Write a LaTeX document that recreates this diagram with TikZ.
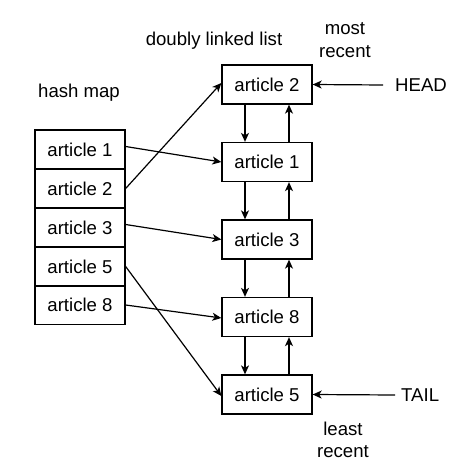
\documentclass[tikz,border=0pt]{standalone}
\usepackage{fontspec}
\setmainfont{Liberation Sans}
\usetikzlibrary{arrows.meta}
\begin{document}
\begin{tikzpicture}[x=1pt,y=-1pt,
  font=\fontsize{18.6}{22.5}\selectfont,
  cell/.style={draw,line width=1.3pt,minimum width=90pt,minimum height=39pt,inner sep=0pt},
  lbl/.style={inner sep=0pt,align=center},
  arr/.style={line width=1.2pt,-{Stealth[length=9pt,width=8pt,inset=2.5pt]}}]
\useasboundingbox (0,0) rectangle (464,468);
% hash map
\node[cell] (h1) at (80,149.5) {article 1};
\node[cell] (h2) at (80,188.5) {article 2};
\node[cell] (h3) at (80,227.5) {article 3};
\node[cell] (h5) at (80,266.5) {article 5};
\node[cell] (h8) at (80,305) {article 8};
% list
\node[cell] (l2) at (267,84.5) {article 2};
\node[cell] (l1) at (267,162) {article 1};
\node[cell] (l3) at (267,239.5) {article 3};
\node[cell] (l8) at (267,317) {article 8};
\node[cell] (l5) at (267,394.5) {article 5};
% labels
\node[lbl] (hm) at (79,93) {hash map};
\node[lbl] (dll) at (214,41) {doubly linked list};
\node[lbl] (mr) at (345,40) {most\\recent};
\node[lbl] (lr) at (343,440) {least\\recent};
\node[lbl,anchor=west] (head) at (395,85) {HEAD};
\node[lbl,anchor=west] (tail) at (401,395) {TAIL};
% head/tail
\draw[arr] ([xshift=-12pt]head.west) -- (l2.east);
\draw[arr] ([xshift=-6pt]tail.west) -- (l5.east);
% list links
\foreach \a/\b in {l2/l1,l1/l3,l3/l8,l8/l5}{
  \draw[arr] ([xshift=-22pt]\a.south) -- ([xshift=-22pt]\b.north);
  \draw[arr] ([xshift=22pt]\b.north) -- ([xshift=22pt]\a.south);
}
% hash to list
\draw[arr] ([yshift=3pt]h1.east) -- (l1.west);
\draw[arr] (h2.east) -- ([yshift=1.5pt]l2.west);
\draw[arr] ([yshift=3pt]h3.east) -- (l3.west);
\draw[arr] (h5.east) -- ([yshift=-1.5pt]l5.west);
\draw[arr] (h8.east) -- ([yshift=-1pt]l8.west);
\end{tikzpicture}
\end{document}
